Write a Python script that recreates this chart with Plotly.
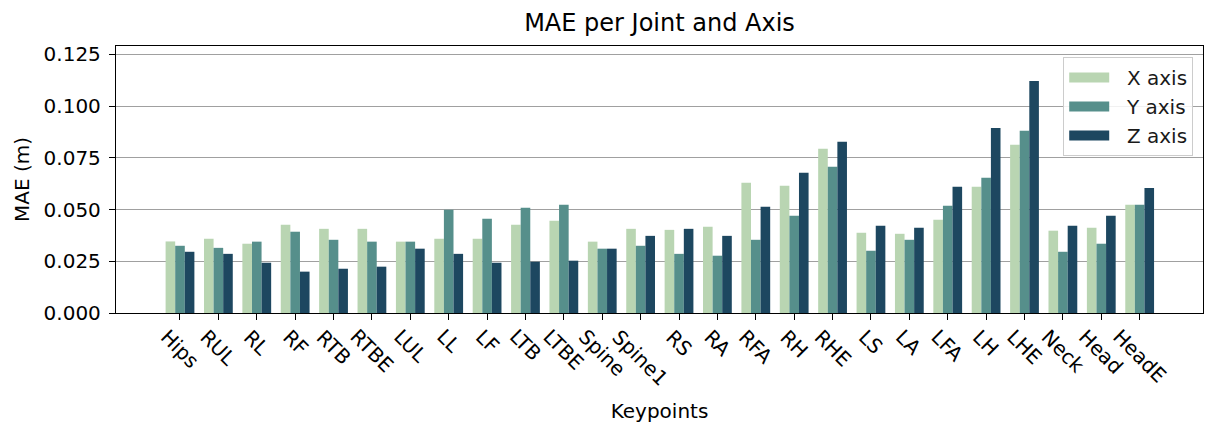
import plotly.graph_objects as go

# Mean absolute error (metres) for each keypoint, split by axis
joints = ["Hips", "RUL", "RL", "RF", "RTB", "RTBE", "LUL", "LL", "LF", "LTB",
          "LTBE", "Spine", "Spine1", "RS", "RA", "RFA", "RH", "RHE", "LS", "LA",
          "LFA", "LH", "LHE", "Neck", "Head", "HeadE"]

mae_x = [0.0346, 0.0359, 0.0335, 0.0427, 0.0407, 0.0407, 0.0345, 0.0359, 0.0359, 0.0427,
         0.0446, 0.0345, 0.0407, 0.0402, 0.0417, 0.0630, 0.0615, 0.0794, 0.0388, 0.0383,
         0.0451, 0.0610, 0.0813, 0.0398, 0.0412, 0.0523]
mae_y = [0.0325, 0.0315, 0.0345, 0.0393, 0.0354, 0.0345, 0.0345, 0.0499, 0.0456, 0.0509,
         0.0523, 0.0311, 0.0325, 0.0286, 0.0277, 0.0354, 0.0470, 0.0707, 0.0301, 0.0354,
         0.0518, 0.0654, 0.0881, 0.0296, 0.0335, 0.0523]
mae_z = [0.0296, 0.0286, 0.0243, 0.0200, 0.0214, 0.0224, 0.0311, 0.0286, 0.0243, 0.0248,
         0.0253, 0.0311, 0.0373, 0.0407, 0.0373, 0.0514, 0.0678, 0.0828, 0.0422, 0.0412,
         0.0610, 0.0895, 0.1122, 0.0422, 0.0470, 0.0605]

series_names = ["X axis", "Y axis", "Z axis"]
series_colors = ["#b9d5b2", "#568f8b", "#1d4760"]

FONT = "DejaVu Sans"
GAP = "\u00a0\u00a0"  # spacing between legend swatch and its label

fig = go.Figure()
for name, vals, col in zip(series_names, [mae_x, mae_y, mae_z], series_colors):
    fig.add_trace(go.Bar(x=joints, y=vals, name=name, marker_color=col,
                         marker_line_width=0, legendgroup=name, showlegend=False))
    # wide rectangular legend swatch for the series
    fig.add_trace(go.Scatter(x=[None], y=[None], mode="lines", name=GAP + name,
                             legendgroup=name, line=dict(color=col, width=15),
                             hoverinfo="skip"))

# Rotated category labels, centred under each tick
for j in joints:
    fig.add_annotation(x=j, y=0, xref="x", yref="paper", text=j, showarrow=False,
                       textangle=45, xanchor="center", yanchor="top", yshift=-9,
                       font=dict(family=FONT, size=20, color="black"))

fig.update_layout(
    width=1205, height=428,
    margin=dict(l=116, r=2, t=46, b=115),
    paper_bgcolor="white", plot_bgcolor="white",
    font=dict(family=FONT, size=20, color="black"),
    barmode="group", bargap=0.25, bargroupgap=0,
    title=dict(text="MAE per Joint and Axis", x=0.5, xref="paper", xanchor="center",
               y=1 - 23 / 428, yref="container", yanchor="middle",
               font=dict(family=FONT, size=24, color="black")),
    legend=dict(x=0.991, y=0.959, xanchor="right", yanchor="top",
                bgcolor="rgba(255,255,255,0.85)", bordercolor="#cccccc", borderwidth=1,
                font=dict(family=FONT, size=20, color="#1a1a1a"),
                itemwidth=40, tracegroupgap=0),
    xaxis=dict(type="category", range=[-1.667, 26.65], showticklabels=False,
               ticks="outside", ticklen=6, tickwidth=1.3, tickcolor="black",
               showline=True, linecolor="black", linewidth=1.3, mirror=True,
               showgrid=False, zeroline=False,
               title=dict(text="Keypoints", standoff=84,
                          font=dict(family=FONT, size=20))),
    yaxis=dict(range=[0, 0.1291], dtick=0.025, tick0=0, tickformat=".3f",
               ticks="outside", ticklen=6, tickwidth=1.3, tickcolor="black",
               showline=True, linecolor="black", linewidth=1.3, mirror=True,
               showgrid=True, gridcolor="#a0a0a0", gridwidth=1, zeroline=False,
               ticklabelstandoff=4,
               title=dict(text="MAE (m)", standoff=8,
                          font=dict(family=FONT, size=20))),
)

fig.write_html("out.html")
